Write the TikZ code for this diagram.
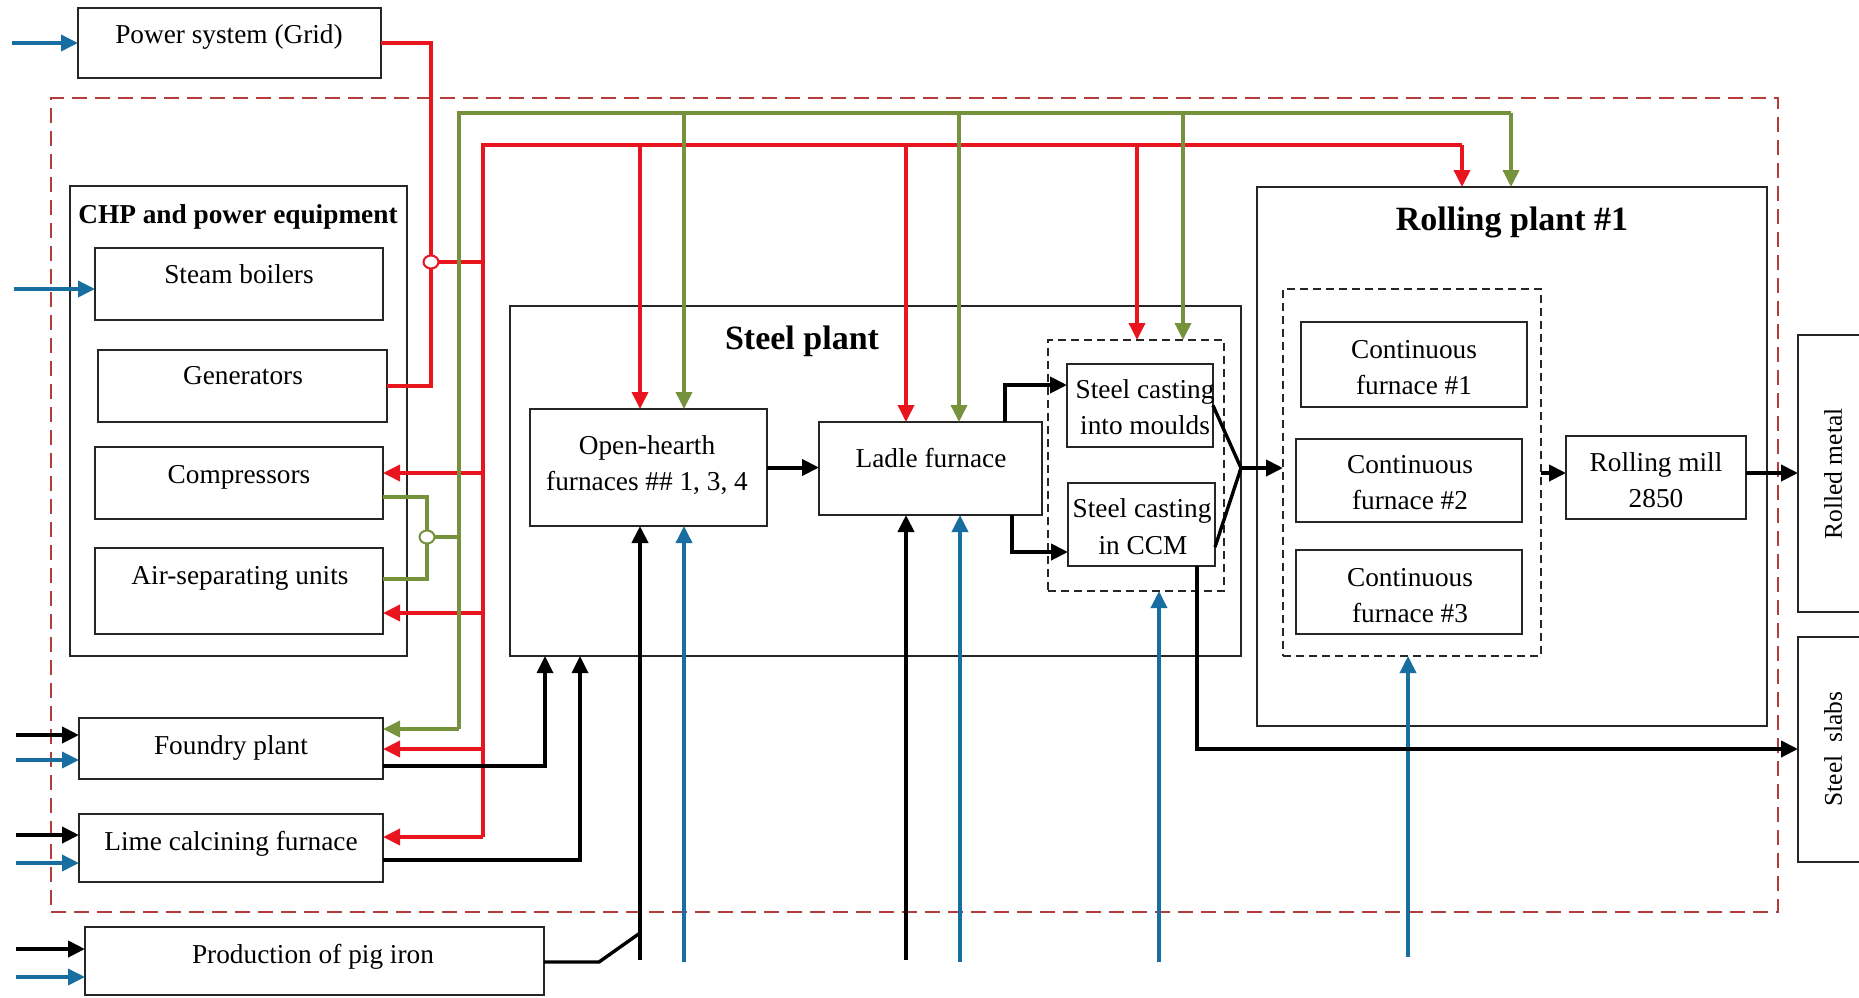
\documentclass[tikz,border=0pt]{standalone}
\usepackage{fontspec}
\setmainfont{Liberation Serif}
\usetikzlibrary{arrows.meta,shapes.geometric,calc}
\definecolor{redc}{RGB}{232,20,30}
\definecolor{grnc}{RGB}{118,146,60}
\definecolor{bluc}{RGB}{24,110,160}
\definecolor{dredc}{RGB}{180,60,60}
\newcommand\fsn{\fontsize{27.3pt}{36pt}\selectfont}
\newcommand\fsr{\fontsize{25.5pt}{30pt}\selectfont}
\newcommand\fsb{\fontsize{34pt}{40pt}\selectfont\bfseries}
\begin{document}
\begin{tikzpicture}[x=1pt,y=-1pt,
  box/.style={draw=black!85, line width=1.8pt, inner sep=0pt, outer sep=0pt},
  dbox/.style={draw=black!85, line width=1.8pt, inner sep=0pt, outer sep=0pt, dash pattern=on 8pt off 5pt},
  obox/.style={draw=dredc, line width=1.8pt, inner sep=0pt, outer sep=0pt, dash pattern=on 15pt off 8pt},
  redl/.style={draw=redc, line width=3.6pt},
  grnl/.style={draw=grnc, line width=3.6pt},
  blul/.style={draw=bluc, line width=3.6pt},
  blkl/.style={draw=black, line width=4pt},
  arr/.style={-{Triangle[length=17pt,width=16pt]}},
  hop/.style={ellipse, fill=white, line width=2pt, minimum width=15pt, minimum height=13pt, inner sep=0pt, outer sep=0pt},
  txt/.style={font=\fsn, inner sep=0pt, anchor=base},
  ttl/.style={font=\fsb, inner sep=0pt, anchor=base}
]
\useasboundingbox (0,0) rectangle (1859,997);

% boxes
\node[obox, minimum width=1727pt, minimum height=814pt] (outer) at (914.5,505) {};
\node[box, minimum width=303pt, minimum height=70pt] (grid) at (229.5,43) {};
\node[box, minimum width=337pt, minimum height=470pt] (chp) at (238.5,421) {};
\node[box, minimum width=288pt, minimum height=72pt] (sb) at (239,284) {};
\node[box, minimum width=289pt, minimum height=72pt] (gen) at (242.5,386) {};
\node[box, minimum width=288pt, minimum height=72pt] (comp) at (239,483) {};
\node[box, minimum width=288pt, minimum height=86pt] (asu) at (239,591) {};
\node[box, minimum width=304pt, minimum height=61pt] (foundry) at (231,748.5) {};
\node[box, minimum width=304pt, minimum height=68pt] (lime) at (231,848) {};
\node[box, minimum width=459pt, minimum height=68pt] (pig) at (314.5,961) {};
\node[box, minimum width=731pt, minimum height=350pt] (steel) at (875.5,481) {};
\node[box, minimum width=237pt, minimum height=117pt] (oh) at (648.5,467.5) {};
\node[box, minimum width=223pt, minimum height=93pt] (ladle) at (930.5,468.5) {};
\node[dbox, minimum width=176pt, minimum height=251pt] (castbox) at (1136,465.5) {};
\node[box, minimum width=146pt, minimum height=83pt] (moulds) at (1140,405.5) {};
\node[box, minimum width=147pt, minimum height=83pt] (ccm) at (1141.5,524.5) {};
\node[box, minimum width=510pt, minimum height=539pt] (rolling) at (1512,456.5) {};
\node[dbox, minimum width=258pt, minimum height=367pt] (contbox) at (1412,472.5) {};
\node[box, minimum width=226pt, minimum height=85pt] (c1) at (1414,364.5) {};
\node[box, minimum width=226pt, minimum height=83pt] (c2) at (1409,480.5) {};
\node[box, minimum width=226pt, minimum height=84pt] (c3) at (1409,592) {};
\node[box, minimum width=180pt, minimum height=83pt] (mill) at (1656,477.5) {};
\node[box, minimum width=74pt, minimum height=277pt] (rolled) at (1835,473.5) {};
\node[box, minimum width=74pt, minimum height=225pt] (slabs) at (1835,749.5) {};

% hops
\node[hop, draw=redc] (rhop) at (431,262) {};
\node[hop, draw=grnc] (ghop) at (427,537) {};

% red (electricity)
\coordinate (rT) at (483,145);
\coordinate (rR) at (1462,145);
\coordinate (rB) at (483,837);
\coordinate (rh) at (483,262);
\coordinate (rc) at (483,473);
\coordinate (ra) at (483,613);
\coordinate (rf) at (483,749);
\coordinate (r1) at (640,145);
\coordinate (r2) at (906,145);
\coordinate (r3) at (1137,145);
\draw[redl] (grid.east) -| (rhop.north);
\draw[redl] (gen.east) -| (rhop.south);
\draw[redl] (rhop.east) -- (rh);
\draw[redl] (rB) -- (rT) -- (rR);
\draw[redl,arr] (rR) -- (rR |- rolling.north);
\draw[redl,arr] (r1) -- (r1 |- oh.north);
\draw[redl,arr] (r2) -- (r2 |- ladle.north);
\draw[redl,arr] (r3) -- (r3 |- castbox.north);
\draw[redl,arr] (rc) -- (rc -| comp.east);
\draw[redl,arr] (ra) -- (ra -| asu.east);
\draw[redl,arr] (rf) -- (rf -| foundry.east);
\draw[redl,arr] (rB) -- (rB -| lime.east);

% green
\coordinate (gT) at (459,113);
\coordinate (gR) at (1511,113);
\coordinate (gB) at (459,729);
\coordinate (g1) at (684,113);
\coordinate (g2) at (959,113);
\coordinate (g3) at (1183,113);
\coordinate (gc) at (427,497);
\coordinate (ga) at (427,579);
\draw[grnl] (gB) -- (gT) -- (gR);
\draw[grnl,arr] (gR) -- (gR |- rolling.north);
\draw[grnl,arr] (g1) -- (g1 |- oh.north);
\draw[grnl,arr] (g2) -- (g2 |- ladle.north);
\draw[grnl,arr] (g3) -- (g3 |- castbox.north);
\draw[grnl,arr] (gB) -- (gB -| foundry.east);
\draw[grnl] (gc -| comp.east) -- (gc) -- (ghop.north);
\draw[grnl] (ghop.south) -- (ga) -- (ga -| asu.east);
\draw[grnl] (ghop.east) -- (ghop.east -| gT);

% blue
\coordinate (bg) at (12,43);
\coordinate (bs) at (14,289);
\coordinate (bf) at (16,760);
\coordinate (bl) at (16,863);
\coordinate (bp) at (16,977);
\coordinate (b1) at (684,962);
\coordinate (b2) at (960,962);
\coordinate (b3) at (1159,962);
\coordinate (b4) at (1408,957);
\draw[blul,arr] (bg) -- (bg -| grid.west);
\draw[blul,arr] (bs) -- (bs -| sb.west);
\draw[blul,arr] (bf) -- (bf -| foundry.west);
\draw[blul,arr] (bl) -- (bl -| lime.west);
\draw[blul,arr] (bp) -- (bp -| pig.west);
\draw[blul,arr] (b1) -- (b1 |- oh.south);
\draw[blul,arr] (b2) -- (b2 |- ladle.south);
\draw[blul,arr] (b3) -- (b3 |- castbox.south);
\draw[blul,arr] (b4) -- (b4 |- contbox.south);

% black (material)
\coordinate (kf) at (16,735);
\coordinate (kl) at (16,835);
\coordinate (kp) at (16,949);
\coordinate (kf2) at (545,766);
\coordinate (kl2) at (580,860);
\coordinate (kp1) at (599,962);
\coordinate (kp2) at (640,933);
\coordinate (k1) at (640,960);
\coordinate (k2) at (906,960);
\coordinate (km) at (1005,385);
\coordinate (kc) at (1012,552);
\coordinate (mg) at (1241,468);
\coordinate (ma) at (1541,473);
\coordinate (ks) at (1197,749);
\draw[blkl,arr] (kf) -- (kf -| foundry.west);
\draw[blkl,arr] (kl) -- (kl -| lime.west);
\draw[blkl,arr] (kp) -- (kp -| pig.west);
\draw[blkl,line width=3.4pt,arr] (kf2 -| foundry.east) -- (kf2) -- (kf2 |- steel.south);
\draw[blkl,line width=3.4pt,arr] (kl2 -| lime.east) -- (kl2) -- (kl2 |- steel.south);
\draw[blkl,line width=3.4pt] (kp1 -| pig.east) -- (kp1) -- (kp2);
\draw[blkl,arr] (k1) -- (k1 |- oh.south);
\draw[blkl,arr] (k2) -- (k2 |- ladle.south);
\draw[blkl,arr] (oh.east) -- (oh.east -| ladle.west);
\draw[blkl,arr] (km |- ladle.north) -- (km) -- (km -| moulds.west);
\draw[blkl,arr] (kc |- ladle.south) -- (kc) -- (kc -| ccm.west);
\draw[blkl,line width=3.4pt] (moulds.east) -- (mg) -- ($(ccm.south east)+(0,-19)$);
\draw[blkl,arr] (mg) -- (mg -| contbox.west);
\draw[blkl,arr] (ma) -- (ma -| mill.west);
\draw[blkl,arr] (ma -| mill.east) -- (ma -| rolled.west);
\draw[blkl,arr] (ks |- ccm.south) -- (ks) -- (ks -| slabs.west);

% texts
\node[txt] (gridt) at (229,43) {Power system (Grid)};
\node[txt, font=\fsn\bfseries] (chpt) at (238,223) {CHP and power equipment};
\node[txt] (sbt) at (239,283) {Steam boilers};
\node[txt] (gent) at (243,384) {Generators};
\node[txt] (compt) at (239,483) {Compressors};
\node[txt] (asut) at (240,584) {Air-separating units};
\node[txt] (foundryt) at (231,754) {Foundry plant};
\node[txt] (limet) at (231,850) {Lime calcining furnace};
\node[txt] (pigt) at (313,963) {Production of pig iron};
\node[ttl] (steelt) at (802,349) {Steel plant};
\node[txt] (oht1) at (647,454) {Open-hearth};
\node[txt] (oht2) at (647,490) {furnaces \#\# 1, 3, 4};
\node[txt] (ladlet) at (931,467) {Ladle furnace};
\node[txt] (mouldst1) at (1145,398) {Steel casting};
\node[txt] (mouldst2) at (1145,434) {into moulds};
\node[txt] (ccmt1) at (1142,517) {Steel casting};
\node[txt] (ccmt2) at (1143,554) {in CCM};
\node[ttl] (rollingt) at (1512,230) {Rolling plant \#1};
\node[txt] (c1t1) at (1414,358) {Continuous};
\node[txt] (c1t2) at (1414,394) {furnace \#1};
\node[txt] (c2t1) at (1410,473) {Continuous};
\node[txt] (c2t2) at (1410,509) {furnace \#2};
\node[txt] (c3t1) at (1410,586) {Continuous};
\node[txt] (c3t2) at (1410,622) {furnace \#3};
\node[txt] (millt1) at (1656,471) {Rolling mill};
\node[txt] (millt2) at (1656,507) {2850};
\node[font=\fsr, inner sep=0pt, rotate=90] (rolledt) at (1833,474) {Rolled metal};
\node[font=\fsr, inner sep=0pt, rotate=90] (slabst) at (1833,749) {Steel\enspace slabs};
\end{tikzpicture}
\end{document}
